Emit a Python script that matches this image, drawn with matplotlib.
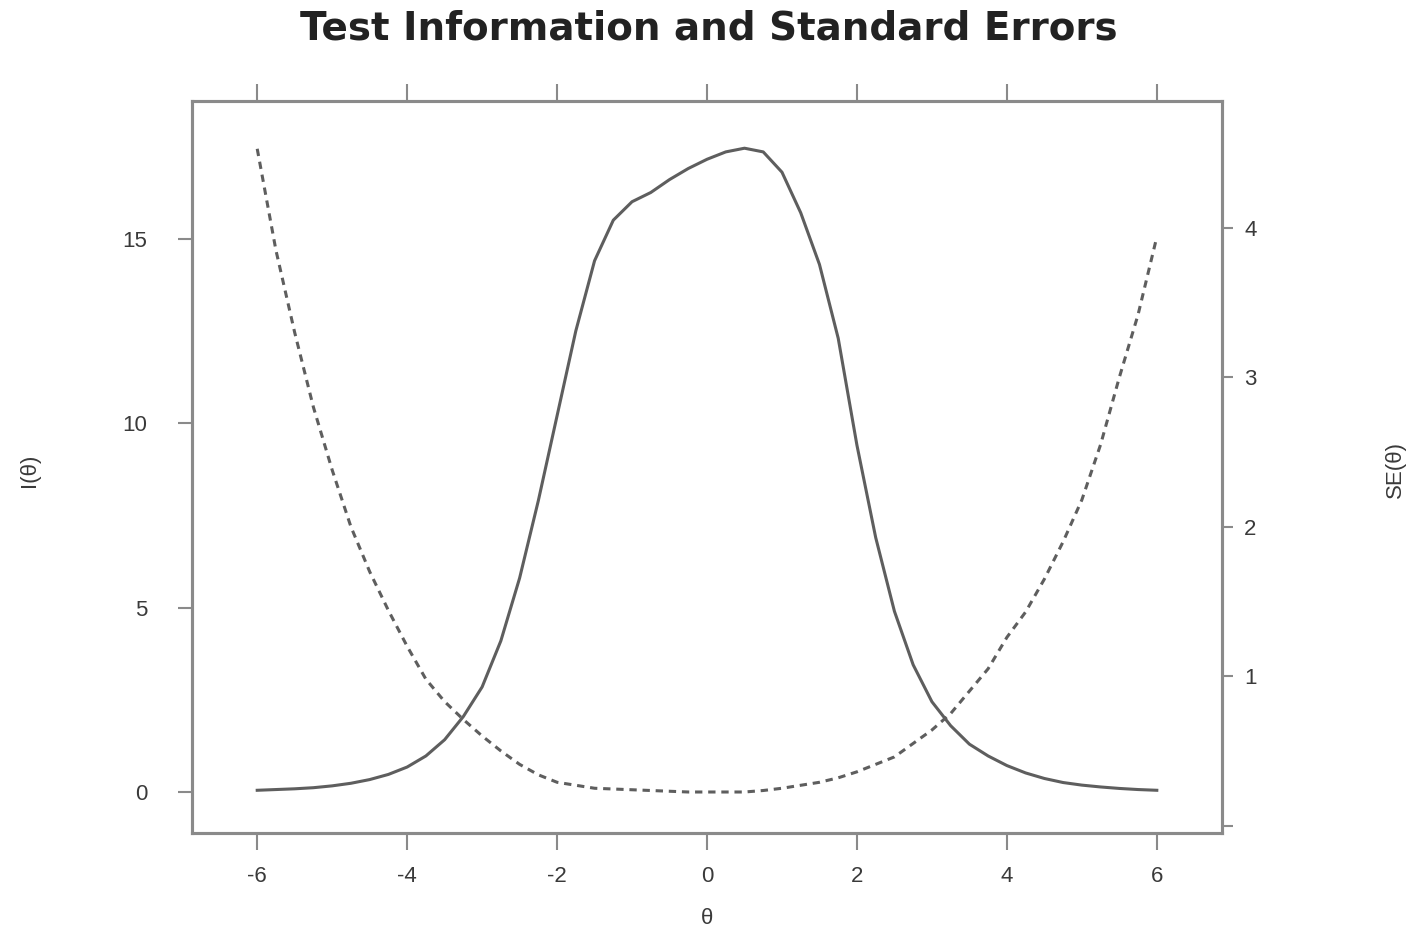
import numpy as np
import matplotlib
matplotlib.use("Agg")
import matplotlib.pyplot as plt

# theta grid and values
theta = np.arange(-6, 6.01, 0.25)
info = [0.05, 0.07, 0.09, 0.12, 0.17, 0.24, 0.34, 0.48, 0.68, 0.98, 1.42, 2.05,
        2.85, 4.1, 5.8, 7.9, 10.2, 12.5, 14.4, 15.5, 16.0, 16.25, 16.6, 16.9,
        17.15, 17.35, 17.45, 17.35, 16.8, 15.7, 14.3, 12.3, 9.4, 6.9, 4.9, 3.45,
        2.45, 1.8, 1.3, 0.98, 0.72, 0.52, 0.37, 0.26, 0.19, 0.14, 0.1, 0.07, 0.05]
se = [4.53, 3.85, 3.3, 2.8, 2.38, 2.0, 1.7, 1.44, 1.2, 0.98, 0.83, 0.71,
      0.6, 0.5, 0.41, 0.34, 0.29, 0.27, 0.25, 0.245, 0.24, 0.235, 0.23, 0.225,
      0.225, 0.225, 0.225, 0.235, 0.25, 0.27, 0.29, 0.32, 0.36, 0.41, 0.46, 0.55,
      0.64, 0.75, 0.9, 1.05, 1.26, 1.43, 1.65, 1.9, 2.18, 2.55, 3.0, 3.42, 3.94]

x_ticks = [-6, -4, -2, 0, 2, 4, 6]
info_ticks = [0, 5, 10, 15]
se_ticks = [0, 1, 2, 3, 4]
se_labels = ["", "1", "2", "3", "4"]

plt.rcParams["font.family"] = ["Liberation Sans", "DejaVu Sans"]
text_col = "#3a3a3a"
line_col = "#5e5e5e"
frame_col = "#8a8a8a"

fig = plt.figure(figsize=(14.18, 9.35), dpi=100)
ax = fig.add_axes([0.1354, 0.109, 0.7264, 0.783])
ax2 = ax.twinx()

ax.plot(theta, info, color=line_col, lw=2.2, solid_joinstyle="round")
ax2.plot(theta, se, color=line_col, lw=2.2, linestyle=(0, (2.4, 1.9)))

ax.set_xlim(-6.87, 6.87)
ax.set_ylim(-1.11, 18.73)
ax2.set_ylim(-0.05, 4.85)

ax.set_xticks(x_ticks)
ax.set_xticklabels([str(t) for t in x_ticks])
ax.set_yticks(info_ticks)
ax2.set_yticks(se_ticks)
ax2.set_yticklabels(se_labels)

ax.tick_params(axis="x", top=True, labeltop=False, direction="out", length=12,
               width=1.5, color=frame_col, labelsize=16, labelcolor=text_col, pad=12)
ax.tick_params(axis="y", direction="out", length=10, width=1.5, color=frame_col,
               labelsize=16, labelcolor=text_col, pad=22)
ax2.tick_params(axis="y", direction="out", length=8, width=1.5, color=frame_col,
                labelsize=16, labelcolor=text_col, pad=8)

for a in (ax, ax2):
    for s in a.spines.values():
        s.set_color(frame_col)
        s.set_linewidth(2.2)

ax.set_xlabel("θ", fontsize=16, color=text_col)
ax.xaxis.set_label_coords(0.5, -0.103)
ax.set_ylabel("I(θ)", fontsize=16, color=text_col)
ax.yaxis.set_label_coords(-0.148, 0.496)
ax2.set_ylabel("SE(θ)", fontsize=16, color=text_col, rotation=90)
ax2.yaxis.set_label_coords(1.158, 0.496)

fig.text(0.5, 0.970, "Test Information and Standard Errors", fontsize=28,
         fontweight="bold", family="DejaVu Sans", color="#222222",
         ha="center", va="center")

fig.savefig("out.png", dpi=100)
